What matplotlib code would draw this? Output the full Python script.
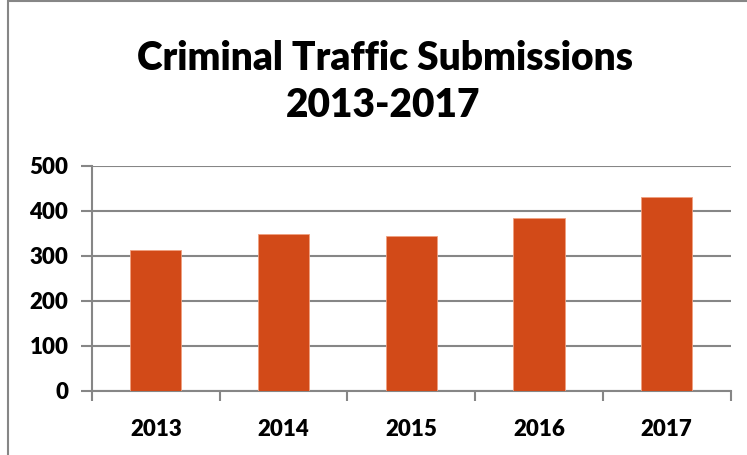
import matplotlib.pyplot as plt
from matplotlib.patches import Rectangle

years = ["2013", "2014", "2015", "2016", "2017"]
submissions = [313, 348, 345, 385, 430]
y_ticks = [0, 100, 200, 300, 400, 500]

bar_color = "#D24A18"
grid_color = "#868686"

plt.rcParams["font.family"] = ["Lato", "DejaVu Sans"]

fig = plt.figure(figsize=(7.47, 4.55), dpi=100)
ax = fig.add_axes([0.1232, 0.1407, 0.8548, 0.4951])

x = range(len(years))
ax.bar(x, submissions, width=0.4, color=bar_color, edgecolor="#F0A080", linewidth=0.6, zorder=3)

ax.set_xlim(-0.5, len(years) - 0.5)
ax.set_ylim(0, 500)
ax.set_yticks(y_ticks)
ax.set_yticklabels([str(v) for v in y_ticks], fontsize=16, fontweight="heavy")
ax.yaxis.grid(True, color=grid_color, linewidth=1.5, zorder=0)

# category labels at centres, tick marks at boundaries
ax.set_xticks(list(x))
ax.set_xticklabels(years, fontsize=16, fontweight="heavy")
ax.tick_params(axis="x", length=0, pad=20)
ax.set_xticks([i - 0.5 for i in range(len(years) + 1)], minor=True)
ax.tick_params(axis="x", which="minor", length=7, width=1.5, color=grid_color, direction="out")
ax.tick_params(axis="y", length=8, width=1.5, color=grid_color, pad=9)

for s in ["top", "right"]:
    ax.spines[s].set_visible(False)
for s in ["left", "bottom"]:
    ax.spines[s].set_color(grid_color)
    ax.spines[s].set_linewidth(1.5)

fig.text(0.515, 0.872, "Criminal Traffic Submissions", ha="center", va="center",
         fontsize=28, fontweight="heavy")
fig.text(0.513, 0.769, "2013-2017", ha="center", va="center",
         fontsize=28, fontweight="heavy")

# chart area border
fig.patches.append(Rectangle((8 / 747, -0.1), 1.2, 1 - 1.5 / 455 + 0.1, transform=fig.transFigure,
                             fill=False, edgecolor=grid_color, linewidth=1.5))

fig.savefig("out.png", dpi=100)
